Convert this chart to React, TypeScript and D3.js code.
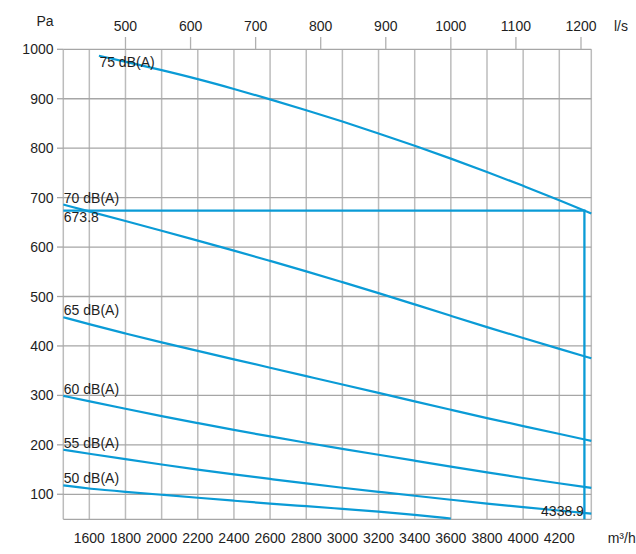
import React from "react";
import * as d3 from "d3";

// Airflow (m³/h) and pressure (Pa)
const flow75 = [1653, 1800, 2000, 2200, 2400, 2600, 2800, 3000, 3200, 3400, 3600, 3800, 4000, 4200, 4377];
const pa75 = [987, 975, 958, 940, 920, 899, 877, 854, 830, 805, 779, 752, 724, 695, 668];

const flowFull = [1456, 1600, 1800, 2000, 2200, 2400, 2600, 2800, 3000, 3200, 3400, 3600, 3800, 4000, 4200, 4377];
const pa70 = [686, 672, 653, 633, 613, 593, 572, 551, 529, 507, 484, 461, 438, 416, 394, 375];
const pa65 = [458, 444, 425, 407, 390, 373, 356, 339, 322, 305, 288, 271, 254, 238, 222, 208];
const pa60 = [299, 288, 273, 258, 244, 230, 217, 204, 192, 180, 168, 156, 144, 133, 122, 113];
const pa55 = [190, 182, 171, 160, 150, 140, 131, 122, 113, 105, 97, 89, 81, 74, 67, 61];

const flow50 = [1456, 1600, 1800, 2000, 2200, 2400, 2600, 2800, 3000, 3200, 3400, 3600];
const pa50 = [118, 111, 105, 99, 93, 87, 81, 76, 70.5, 65, 58.5, 51];

const curveLabels = ["75 dB(A)", "70 dB(A)", "65 dB(A)", "60 dB(A)", "55 dB(A)", "50 dB(A)"];

const opFlow = 4338.9;
const opPressure = 673.8;

const paTicks = [100, 200, 300, 400, 500, 600, 700, 800, 900, 1000];
const m3hTicks = [1600, 1800, 2000, 2200, 2400, 2600, 2800, 3000, 3200, 3400, 3600, 3800, 4000, 4200];
const lsTicks = [500, 600, 700, 800, 900, 1000, 1100, 1200];

const xDomain = [1456, 4377];
const yDomain = [49.4, 1000];

export default function App() {
  const x = d3.scaleLinear().domain(xDomain).range([63.3, 591.3]);
  const y = d3.scaleLinear().domain(yDomain).range([519.3, 49.3]);
  const line = d3
    .line<[number, number]>()
    .x((d) => x(d[0]))
    .y((d) => y(d[1]))
    .curve(d3.curveBasis);

  const series: { f: number[]; p: number[] }[] = [
    { f: flow75, p: pa75 },
    { f: flowFull, p: pa70 },
    { f: flowFull, p: pa65 },
    { f: flowFull, p: pa60 },
    { f: flowFull, p: pa55 },
    { f: flow50, p: pa50 },
  ];

  const blue = "#0a9bd6";
  const font = "'Liberation Sans', Arial, sans-serif";
  const textColor = "#1e1e1e";

  const [x0, x1] = x.range();
  const [yb, yt] = y.range();

  return (
    <svg
      width={636}
      height={554}
      style={{ position: "absolute", left: 0, top: 0, background: "#fff" }}
      fontFamily={font}
    >
      <rect x={0} y={0} width={636} height={554} fill="#fff" />
      {/* vertical gridlines */}
      {[xDomain[0], ...m3hTicks, xDomain[1]].map((v, i) => (
        <line key={"vg" + i} x1={x(v)} x2={x(v)} y1={yt} y2={yb} stroke="#bcbcbc" strokeWidth={1.5} />
      ))}
      {/* horizontal gridlines */}
      {[yDomain[0], ...paTicks].map((v, i) => (
        <line key={"hg" + i} x1={x0} x2={x1} y1={y(v)} y2={y(v)} stroke="#a6a6a6" strokeWidth={1.3} />
      ))}
      {/* left ticks */}
      {paTicks.map((v) => (
        <g key={"pt" + v}>
          <line x1={57} x2={x0} y1={y(v)} y2={y(v)} stroke="#a6a6a6" strokeWidth={1.3} />
          <text x={53.5} y={y(v) + 5} textAnchor="end" fontSize={14} fill={textColor}>
            {v}
          </text>
        </g>
      ))}
      {/* top l/s ticks */}
      {lsTicks.map((v) => (
        <g key={"lt" + v}>
          <line x1={x(v * 3.6)} x2={x(v * 3.6)} y1={37} y2={yt} stroke="#b0b0b0" strokeWidth={1.3} />
          <text x={x(v * 3.6)} y={31} textAnchor="middle" fontSize={14} fill={textColor}>
            {v}
          </text>
        </g>
      ))}
      {/* bottom m3/h labels */}
      {m3hTicks.map((v) => (
        <text key={"mt" + v} x={x(v)} y={543.3} textAnchor="middle" fontSize={14} fill={textColor}>
          {v}
        </text>
      ))}
      <text x={45} y={26} textAnchor="middle" fontSize={14} fill={textColor}>Pa</text>
      <text x={614} y={31} fontSize={14} fill={textColor}>l/s</text>
      <text x={607.7} y={543.3} fontSize={14} fill={textColor}>m³/h</text>

      {/* curves */}
      {series.map((s, i) => (
        <path
          key={"c" + i}
          d={line(s.f.map((f, j) => [f, s.p[j]] as [number, number])) || ""}
          fill="none"
          stroke={blue}
          strokeWidth={2.2}
        />
      ))}
      {/* operating point */}
      <path
        d={`M${x(xDomain[0])},${y(opPressure)}H${x(opFlow)}V${y(yDomain[0])}`}
        fill="none"
        stroke={blue}
        strokeWidth={2.3}
      />

      {/* curve labels */}
      {series.map((s, i) => (
        <text key={"l" + i} x={x(s.f[0]) + 0.5} y={y(s.p[0]) + (i === 0 ? 11.5 : -2)} fontSize={14} fill={textColor}>
          {curveLabels[i]}
        </text>
      ))}
      <text x={x(xDomain[0]) + 0.5} y={y(opPressure) + 11} fontSize={14} fill={textColor}>
        {opPressure}
      </text>
      <text x={x(opFlow) - 0.5} y={516} textAnchor="end" fontSize={14} fill={textColor}>
        {opFlow}
      </text>
    </svg>
  );
}
